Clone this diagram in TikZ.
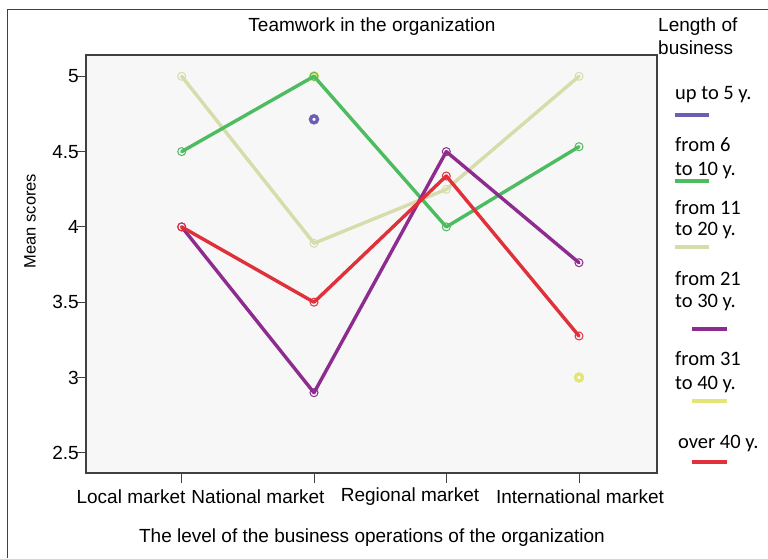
\documentclass[tikz,border=0pt]{standalone}
\usepackage{fontspec}
\setmainfont{Liberation Sans}
\newfontfamily\legfont{Carlito}
\definecolor{cgreen}{HTML}{4DBB5F}
\definecolor{colive}{HTML}{D6DCAA}
\definecolor{cpurple}{HTML}{8E2B8E}
\definecolor{cred}{HTML}{E0303A}
\definecolor{cblue}{HTML}{6A5FB5}
\definecolor{cyellow}{HTML}{E3E676}
\definecolor{plotbg}{HTML}{F7F7F7}
\definecolor{frame}{HTML}{404040}
\begin{document}
\begin{tikzpicture}[x=1pt,y=-1pt,
  dataline/.style={line width=3.4pt, line join=round, line cap=round},
  mk/.style={circle, draw=#1, line width=1pt, minimum size=8pt, inner sep=0pt},
  bigmk/.style={circle, draw=#1, fill=white, line width=3.4pt, minimum size=7pt, inner sep=0pt},
  txt/.style={font=\fontsize{19}{22}\selectfont, inner sep=0pt},
  leg/.style={font=\legfont\fontsize{20.5}{23}\selectfont, inner sep=0pt, anchor=west},
  legline/.style={line width=3.4pt}]
\useasboundingbox (0,0) rectangle (768,558);
\fill[white] (0,0) rectangle (768,558);
% outer frame
\draw[line width=1pt, draw=frame] (7,558) -- (7,9) -- (768,9);
% plot area
\draw[fill=plotbg, line width=1.2pt, draw=frame] (86,55) rectangle (657,473);
% title
\node[txt] (title) at (372,27) {Teamwork in the organization};
\node[txt, font=\fontsize{16.5}{20}\selectfont, rotate=90] (ylab) at (30,221) {Mean scores};
\node[txt] (xlab) at (372,538) {The level of the business operations of the organization};
% y ticks
\foreach \v/\yy/\n in {5/76.3/a,4.5/151.6/b,4/226.9/c,3.5/302.2/d,3/377.5/e,2.5/452.8/f}{
  \coordinate (yt\n) at (86,\yy);
  \draw[line width=1pt, draw=frame] (yt\n) -- ++(-9,0);
  \node[txt, anchor=east] (yl\n) at (79,\yy) {\v};
}
% x ticks
\foreach \xx/\n in {181.7/a,314/b,446.3/c,579/d}{
  \coordinate (xt\n) at (\xx,473);
  \draw[line width=1pt, draw=frame] (xt\n) -- ++(0,10);
}
\node[txt] (xla) at (131,497) {Local market};
\node[txt] (xlb) at (258,497) {National market};
\node[txt] (xlc) at (410,497) {Regional market};
\node[txt] (xld) at (580,497) {International market};
% data coordinates
\coordinate (g1) at (181.7,151.6); \coordinate (g2) at (314,76.3); \coordinate (g3) at (446.3,226.9); \coordinate (g4) at (579,146.7);
\coordinate (o1) at (181.7,76.3); \coordinate (o2) at (314,243.3); \coordinate (o3) at (446.3,189.3); \coordinate (o4) at (579,76.3);
\coordinate (p1) at (181.7,226.9); \coordinate (p2) at (314,392.7); \coordinate (p3) at (446.3,151.6); \coordinate (p4) at (579,262.7);
\coordinate (r1) at (181.7,226.9); \coordinate (r2) at (314,302.2); \coordinate (r3) at (446.3,176); \coordinate (r4) at (579,336);
% single points
\node[bigmk=cyellow] (y1) at (314,76.3) {};
\node[bigmk=cyellow] (y2) at (579,377.5) {};
\node[bigmk=cblue] (b1) at (314,119.3) {};
% lines
\draw[dataline, colive] (o1) -- (o2) -- (o3) -- (o4);
\draw[dataline, cgreen] (g1) -- (g2) -- (g3) -- (g4);
\draw[dataline, cpurple] (p1) -- (p2) -- (p3) -- (p4);
\draw[dataline, cred] (r1) -- (r2) -- (r3) -- (r4);
% markers
\foreach \c/\col in {o/colive,g/cgreen,p/cpurple,r/cred}{
  \foreach \i in {1,2,3,4}{
    \node[mk=\col] (m\c\i) at (\c\i) {};
  }
}
% legend
\node[txt, anchor=west] (lt1) at (658,27) {Length of};
\node[txt, anchor=west] (lt2) at (658,48) {business};
\node[leg] (l1) at (675,95) {up to 5 y.};
\draw[legline, cblue] (675,115) -- (709,115);
\node[leg] (l2a) at (675,145) {from 6};
\node[leg] (l2b) at (675,170) {to 10 y.};
\draw[legline, cgreen] (675,181) -- (709,181);
\node[leg] (l3a) at (675,208) {from 11};
\node[leg] (l3b) at (675,230) {to 20 y.};
\draw[legline, colive] (675,247) -- (709,247);
\node[leg] (l4a) at (675,279) {from 21};
\node[leg] (l4b) at (675,302) {to 30 y.};
\draw[legline, cpurple] (692,329) -- (727,329);
\node[leg] (l5a) at (675,359) {from 31};
\node[leg] (l5b) at (675,384) {to 40 y.};
\draw[legline, cyellow] (692,401) -- (727,401);
\node[leg] (l6) at (678,443) {over 40 y.};
\draw[legline, cred] (692,462) -- (727,462);
\end{tikzpicture}
\end{document}
